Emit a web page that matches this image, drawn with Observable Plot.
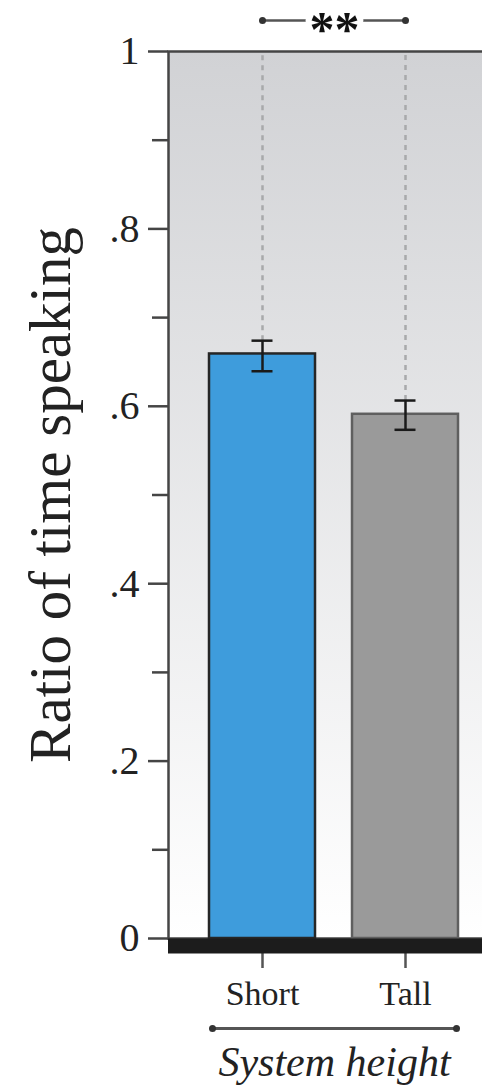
<!DOCTYPE html>
<html><head><meta charset="utf-8">
<script src="https://cdn.jsdelivr.net/npm/d3@7"></script>
<script src="https://cdn.jsdelivr.net/npm/@observablehq/plot@0.6"></script>
<style>
html,body{margin:0;padding:0;background:#fff;overflow:hidden;}
#chart svg{display:block;max-width:none !important;}
</style></head><body><div id="chart"></div>
<script>
const categories = ["Short", "Tall"];
const means = [0.659, 0.591];
const errLow = [0.6395, 0.5735];
const errHigh = [0.674, 0.6065];
const barFills = ["#3e9cdc", "#9a9a9a"];
const barStrokes = ["#262626", "#5f5f5f"];
const yMajorTicks = [0, 0.2, 0.4, 0.6, 0.8, 1];
const yMinorTicks = [0.1, 0.3, 0.5, 0.7, 0.9];
const yTickLabels = ["0", ".2", ".4", ".6", ".8", "1"];
const yTitle = "Ratio of time speaking";
const xTitle = "System height";
const sigLabel = "**";

const rows = categories.map((c, i) => ({cat: c, mean: means[i], lo: errLow[i], hi: errHigh[i], fill: barFills[i], stroke: barStrokes[i]}));

const font = "'Liberation Serif', 'Times New Roman', serif";
const sigY = 1.035;     // significance bracket level (y units, above frame)
const groupY = -0.1015; // grouping bracket level (y units, below axis)

const plot = Plot.plot({
  width: 500, height: 1087,
  marginTop: 51, marginBottom: 149, marginLeft: 168, marginRight: 0,
  style: {fontFamily: font, background: "transparent", color: "#222", overflow: "visible", maxWidth: "none"},
  x: {type: "band", domain: categories, paddingInner: 0.257, paddingOuter: 0.2815},
  y: {domain: [0, 1]},
  color: {type: "identity"},
  marks: [
    Plot.frame({fill: "url(#bgGrad)", stroke: "#454545", strokeWidth: 2.5}),
    Plot.ruleX(rows, {x: "cat", y1: "hi", y2: () => 1, stroke: "#a8a9ab", strokeWidth: 2.5, strokeDasharray: "5,5"}),
    Plot.axisY({ticks: yMinorTicks, tickSize: 16, tickFormat: () => "", label: null, stroke: "#454545", strokeWidth: 2.5}),
    Plot.axisY({ticks: yMajorTicks, tickSize: 20, tickPadding: 9, label: null,
      tickFormat: d => yTickLabels[yMajorTicks.indexOf(d)], fontSize: 40, stroke: "#454545", strokeWidth: 2.5, fill: "#222"}),
    Plot.axisX({tickSize: 30, tickPadding: 12, label: null, fontSize: 34, stroke: "#555", strokeWidth: 2.5, fill: "#222"}),
    Plot.barY(rows, {x: "cat", y: "mean", fill: "fill", stroke: "stroke", strokeWidth: 2.5}),
    Plot.ruleX(rows, {x: "cat", y1: "lo", y2: "hi", stroke: "#1a1a1a", strokeWidth: 2.5}),
    Plot.tickY(rows, {x: "cat", y: "lo", insetLeft: 42.5, insetRight: 42.5, stroke: "#1a1a1a", strokeWidth: 2.5}),
    Plot.tickY(rows, {x: "cat", y: "hi", insetLeft: 42.5, insetRight: 42.5, stroke: "#1a1a1a", strokeWidth: 2.5}),
    Plot.ruleY([0], {stroke: "#1c1c1c", strokeWidth: 15, dy: 7.5}),
    // significance bracket
    Plot.ruleY([sigY], {x1: () => categories[0], x2: () => categories[1], insetLeft: 53.5, insetRight: 53.5, stroke: "#555", strokeWidth: 2.5}),
    Plot.dot(rows, {x: "cat", y: () => sigY, r: 3.5, fill: "#333"}),
    Plot.text([sigLabel], {frameAnchor: "top", text: d => d, dy: -5.5, lineAnchor: "bottom", fontSize: 50, fontWeight: "bold",
      fill: "#111", stroke: "white", strokeWidth: 12, paintOrder: "stroke"}),
    // grouping bracket
    Plot.ruleY([groupY], {x1: () => categories[0], x2: () => categories[1], insetLeft: 3.5, insetRight: 2.5, stroke: "#555", strokeWidth: 3}),
    Plot.dot([rows[0]], {x: "cat", y: () => groupY, dx: -50, r: 3.5, fill: "#333"}),
    Plot.dot([rows[1]], {x: "cat", y: () => groupY, dx: 51, r: 3.5, fill: "#333"}),
    // titles
    Plot.text([yTitle], {frameAnchor: "left", textAnchor: "middle", text: d => d, rotate: -90, dx: -99, lineAnchor: "bottom", fontSize: 59, fill: "#222"}),
    Plot.text([xTitle], {frameAnchor: "bottom", text: d => d, dy: 137, lineAnchor: "bottom", fontSize: 42, fontStyle: "italic", fill: "#222"})
  ]
});

const ns = "http://www.w3.org/2000/svg";
const defs = document.createElementNS(ns, "defs");
defs.innerHTML = '<linearGradient id="bgGrad" x1="0" y1="0" x2="0" y2="1"><stop offset="0" stop-color="#d1d2d5"/><stop offset="1" stop-color="#ffffff"/></linearGradient>';
plot.insertBefore(defs, plot.firstChild);
document.getElementById("chart").appendChild(plot);
</script>
</body></html>
